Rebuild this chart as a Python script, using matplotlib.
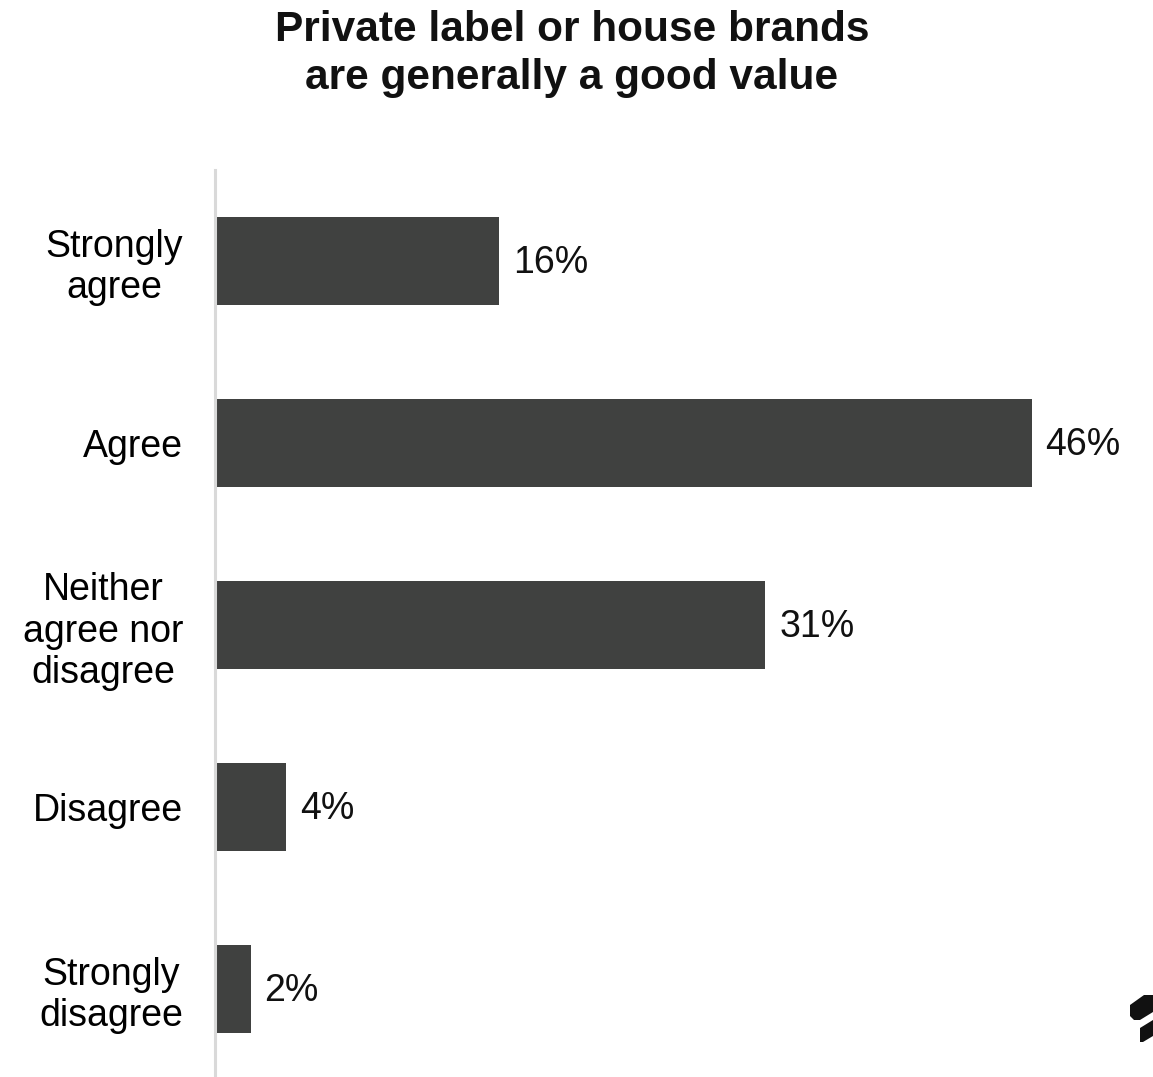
import matplotlib
matplotlib.use("Agg")
import matplotlib.pyplot as plt
from matplotlib.patches import Polygon

plt.rcParams['font.family'] = ['Liberation Sans', 'DejaVu Sans']

categories = ["Strongly\nagree", "Agree", "Neither\nagree nor\ndisagree", "Disagree", "Strongly\ndisagree"]
values = [16, 46, 31, 4, 2]
value_labels = ["16%", "46%", "31%", "4%", "2%"]

W, H = 1153, 1077
fig = plt.figure(figsize=(W / 100, H / 100), dpi=100)

# axes placed in pixel terms: left spine at x=215, top at y=170, bottom at y=1080
left_px, right_px = 215, 215 + 17.75 * 50
top_px, bottom_px = 170, 1080
ax = fig.add_axes([left_px / W, 1 - bottom_px / H, (right_px - left_px) / W, (bottom_px - top_px) / H])

bar_color = "#404140"
pos = list(range(len(categories)))
ax.barh(pos, values, height=0.485, color=bar_color, zorder=2)

ax.set_xlim(0, 50)
ax.set_ylim(len(categories) - 0.5, -0.5)

ax.set_yticks(pos)
ax.set_yticklabels(categories, fontsize=27, multialignment='center', linespacing=1.18)
ax.tick_params(axis='y', length=0, pad=23)
ax.set_xticks([])

for s in ["top", "right", "bottom"]:
    ax.spines[s].set_visible(False)
ax.spines["left"].set_color("#d9d9d9")
ax.spines["left"].set_linewidth(2.2)

for p, v, lab in zip(pos, values, value_labels):
    ax.annotate(lab, xy=(v, p), xytext=(10, -1.5), textcoords="offset points",
                ha="left", va="center", fontsize=27, color="#111111")

fig.text(572 / W, 1 - 54 / H, "Private label or house brands\nare generally a good value",
         ha="center", va="center", fontsize=30.5, fontweight="bold", linespacing=1.27,
         color="#111111")

# corner logo mark (partly off the edge)
def px(pts):
    return [(x / W, 1 - y / H) for x, y in pts]

upper = px([(1130, 1005), (1144, 995), (1153, 995), (1153, 1012), (1140, 1020), (1134, 1020), (1130, 1016)])
lower = px([(1140, 1028), (1153, 1020), (1153, 1036), (1143, 1042), (1140, 1042)])
for poly in (upper, lower):
    fig.patches.append(Polygon(poly, closed=True, transform=fig.transFigure,
                               facecolor="#111111", edgecolor="none"))

fig.savefig("out.png", dpi=100)
